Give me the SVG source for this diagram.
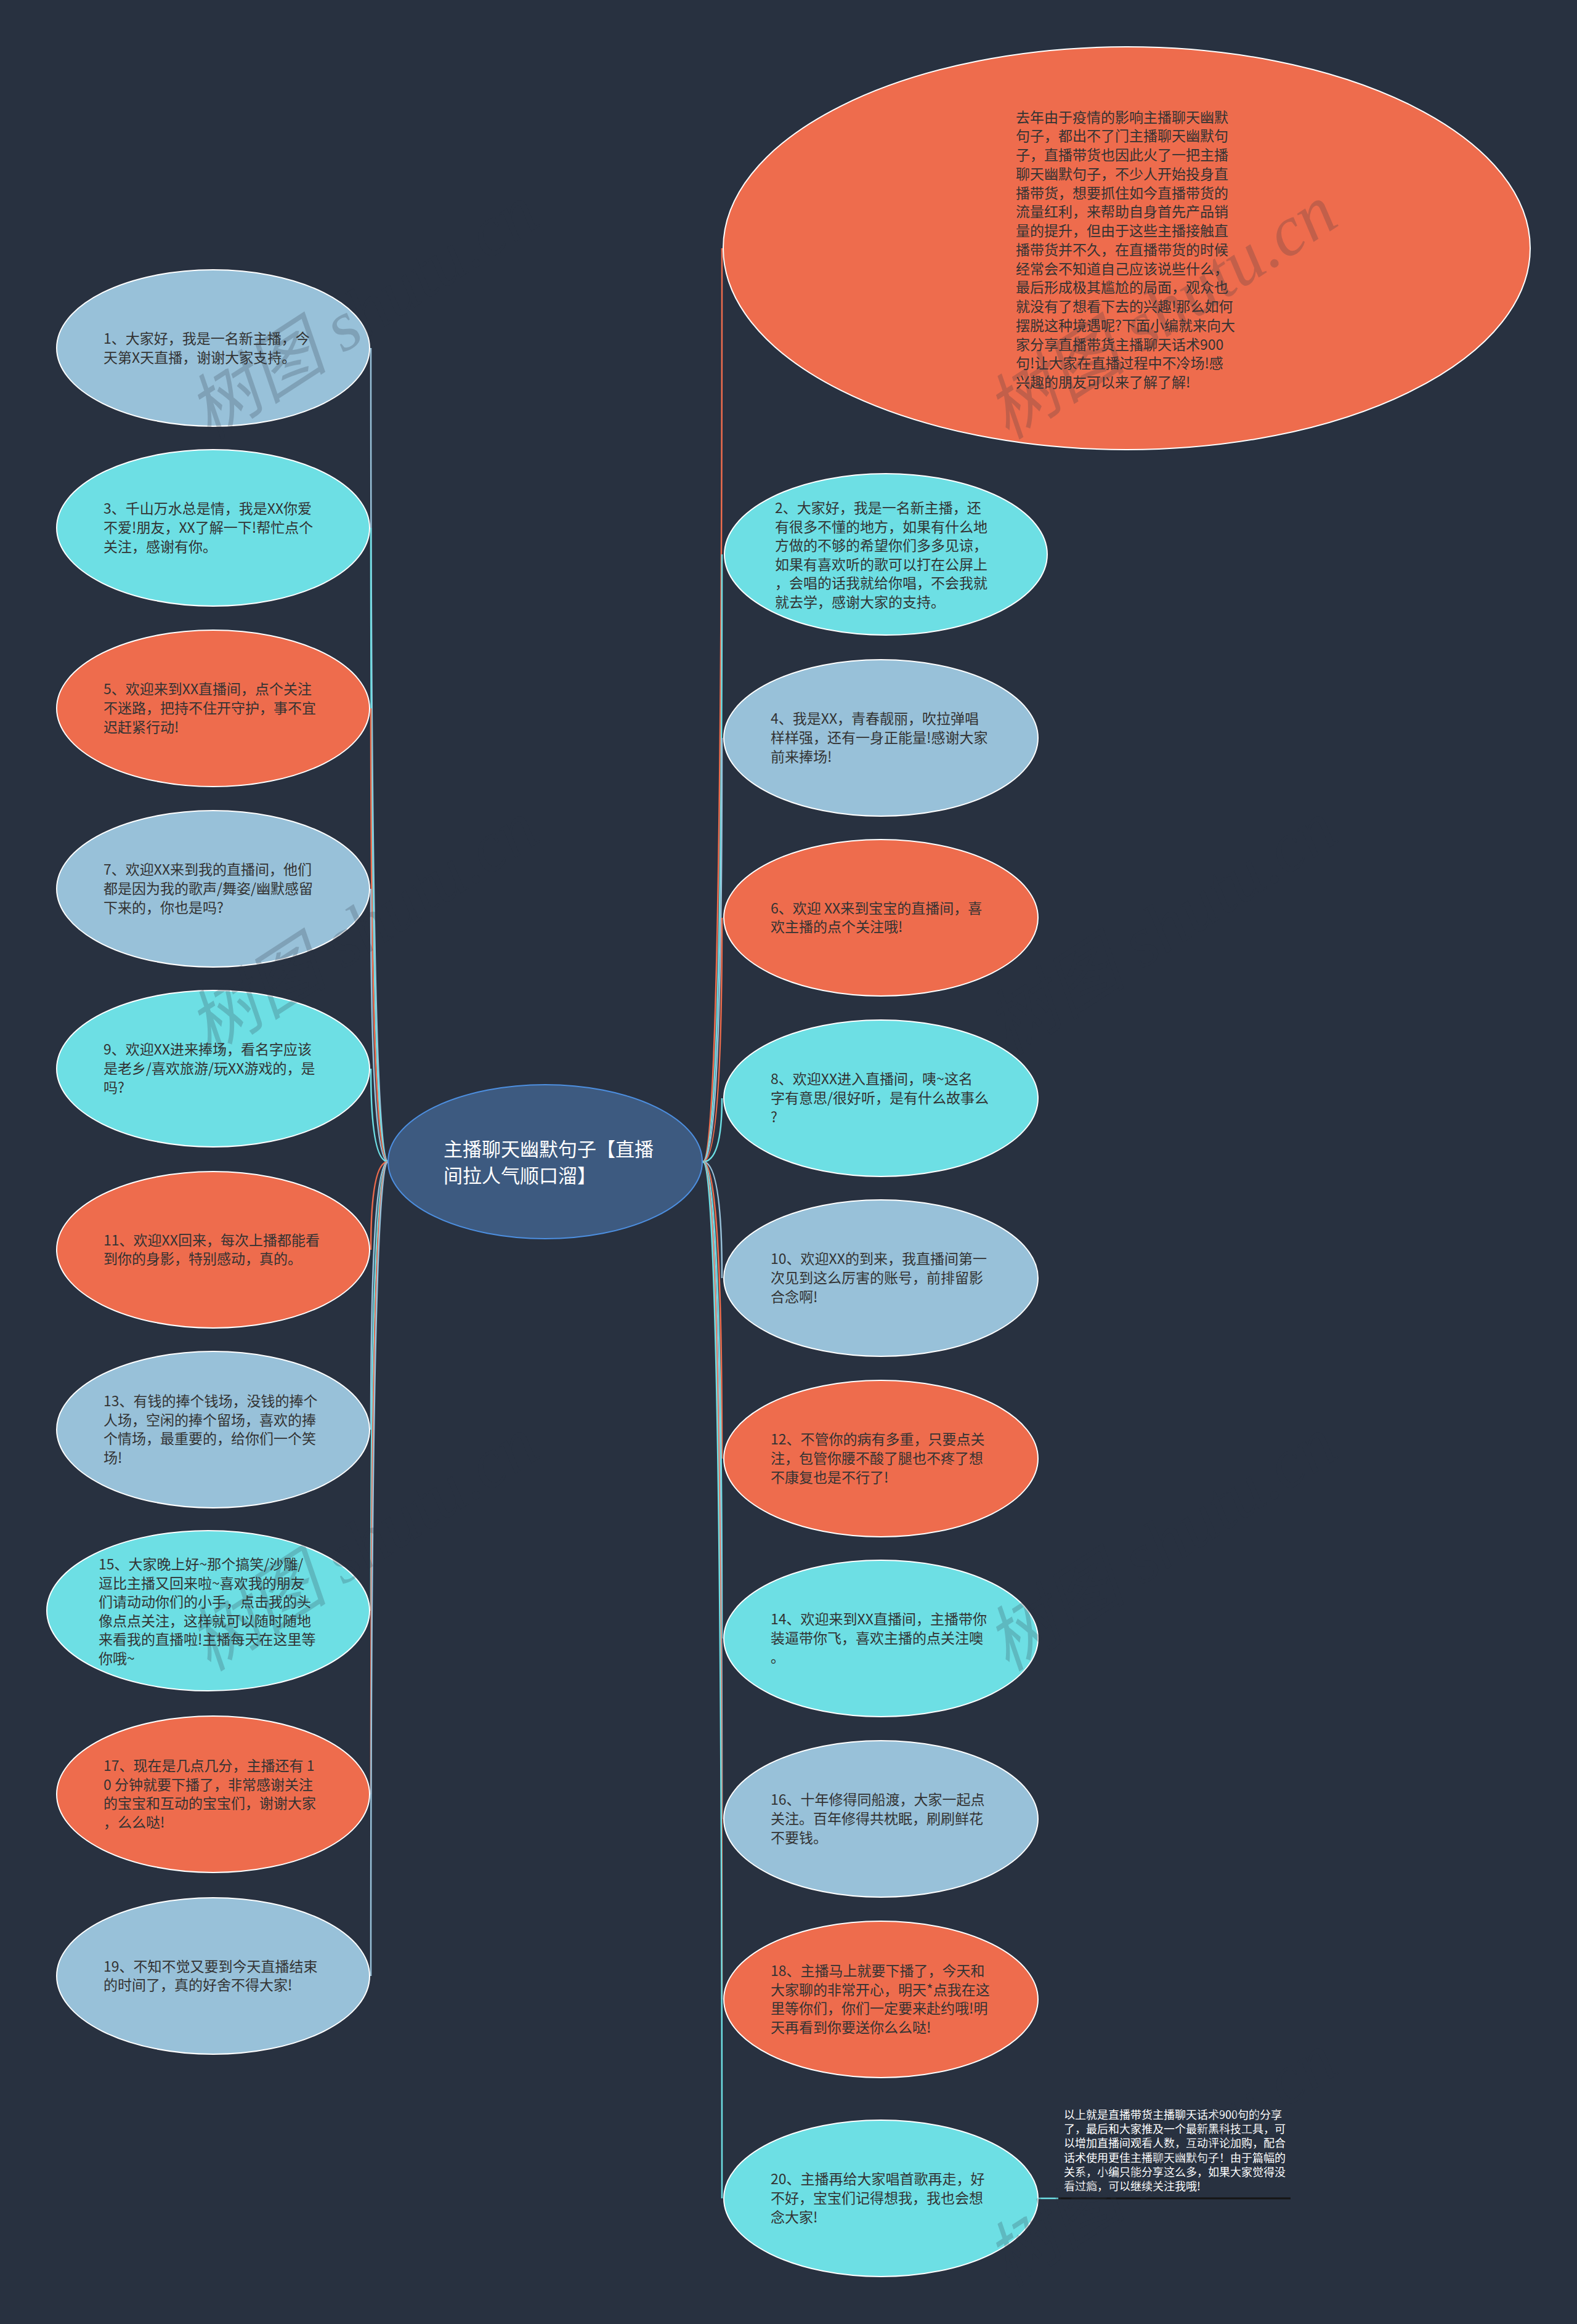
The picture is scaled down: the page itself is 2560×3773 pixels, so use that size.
<svg xmlns="http://www.w3.org/2000/svg" width="2560" height="3773" viewBox="0 0 2560 3773">
<style>
.bg{fill:#283140}
.n{stroke:#ffffff;stroke-width:2}
.o{fill:#ee6c4d}
.b{fill:#98c1d9}
.c{fill:#6ddfe4}
.t{font-family:"Noto Sans CJK SC","Noto Sans",sans-serif;font-size:23px;fill:#333333}
.ct{font-family:"Noto Sans CJK SC","Noto Sans",sans-serif;font-size:31px;fill:#ffffff}
.ft{font-family:"Noto Sans CJK SC","Noto Sans",sans-serif;font-size:18px;fill:#ffffff}
.e{fill:none;stroke-width:2.5}
.eo{stroke:#ee6c4d}
.eb{stroke:#98c1d9}
.ec{stroke:#6ddfe4}
.wm{font-family:"Liberation Serif","Noto Sans CJK SC",serif;font-style:italic;font-size:115px;fill:#283140;fill-opacity:0.22}
</style>
<rect class="bg" x="0" y="0" width="2560" height="3773"/>
<g id="connectors">
<path class="e eb" d="M630 1886 Q602 1886 602 565"/>
<path class="e ec" d="M630 1886 Q602 1886 602 857"/>
<path class="e eo" d="M630 1886 Q602 1886 602 1150"/>
<path class="e eb" d="M630 1886 Q602 1886 602 1443"/>
<path class="e ec" d="M630 1886 Q602 1886 602 1735"/>
<path class="e eo" d="M630 1886 Q602 1886 602 2029"/>
<path class="e eb" d="M630 1886 Q602 1886 602 2321"/>
<path class="e ec" d="M630 1886 Q602 1886 602 2615"/>
<path class="e eo" d="M630 1886 Q602 1886 602 2913"/>
<path class="e eb" d="M630 1886 Q602 1886 602 3208"/>
<path class="e eo" d="M1141 1886 Q1172 1886 1172 403"/>
<path class="e ec" d="M1141 1886 Q1172 1886 1172 900"/>
<path class="e eb" d="M1141 1886 Q1172 1886 1172 1198"/>
<path class="e eo" d="M1141 1886 Q1172 1886 1172 1490"/>
<path class="e ec" d="M1141 1886 Q1172 1886 1172 1783"/>
<path class="e eb" d="M1141 1886 Q1172 1886 1172 2075"/>
<path class="e eo" d="M1141 1886 Q1172 1886 1172 2368"/>
<path class="e ec" d="M1141 1886 Q1172 1886 1172 2660"/>
<path class="e eb" d="M1141 1886 Q1172 1886 1172 2953"/>
<path class="e eo" d="M1141 1886 Q1172 1886 1172 3246"/>
<path class="e ec" d="M1141 1886 Q1172 1886 1172 3569"/>
<path class="e ec" d="M1685 3569 L1718 3569"/>
</g>
<g id="root">
<ellipse cx="885" cy="1886" rx="255" ry="125" fill="#3d5a80" stroke="#4d8fe0" stroke-width="2"/>
<text class="ct" x="720" y="1877">主播聊天幽默句子【直播<tspan x="720" dy="43">间拉人气顺口溜】</tspan></text>
</g>
<g id="intro">
<ellipse class="n o" cx="1829" cy="403" rx="655" ry="327"/>
<text class="t" x="1649" y="198.5">去年由于疫情的影响主播聊天幽默<tspan x="1649" dy="30.75">句子，都出不了门主播聊天幽默句</tspan><tspan x="1649" dy="30.75">子，直播带货也因此火了一把主播</tspan><tspan x="1649" dy="30.75">聊天幽默句子，不少人开始投身直</tspan><tspan x="1649" dy="30.75">播带货，想要抓住如今直播带货的</tspan><tspan x="1649" dy="30.75">流量红利，来帮助自身首先产品销</tspan><tspan x="1649" dy="30.75">量的提升，但由于这些主播接触直</tspan><tspan x="1649" dy="30.75">播带货并不久，在直播带货的时候</tspan><tspan x="1649" dy="30.75">经常会不知道自己应该说些什么，</tspan><tspan x="1649" dy="30.75">最后形成极其尴尬的局面，观众也</tspan><tspan x="1649" dy="30.75">就没有了想看下去的兴趣!那么如何</tspan><tspan x="1649" dy="30.75">摆脱这种境遇呢?下面小编就来向大</tspan><tspan x="1649" dy="30.75">家分享直播带货主播聊天话术900</tspan><tspan x="1649" dy="30.75">句!让大家在直播过程中不冷场!感</tspan><tspan x="1649" dy="30.75">兴趣的朋友可以来了解了解!</tspan></text>
</g>
<g id="n1">
<ellipse class="n b" cx="346" cy="565" rx="254" ry="127"/>
<text class="t" x="168" y="558">1、大家好，我是一名新主播，今<tspan x="168" dy="30.6">天第X天直播，谢谢大家支持。</tspan></text>
</g>
<g id="n3">
<ellipse class="n c" cx="346" cy="857" rx="254" ry="127"/>
<text class="t" x="168" y="834.4">3、千山万水总是情，我是XX你爱<tspan x="168" dy="30.6">不爱!朋友，XX了解一下!帮忙点个</tspan><tspan x="168" dy="30.6">关注，感谢有你。</tspan></text>
</g>
<g id="n5">
<ellipse class="n o" cx="346" cy="1150" rx="254" ry="127"/>
<text class="t" x="168" y="1127.4">5、欢迎来到XX直播间，点个关注<tspan x="168" dy="30.6">不迷路，把持不住开守护，事不宜</tspan><tspan x="168" dy="30.6">迟赶紧行动!</tspan></text>
</g>
<g id="n7">
<ellipse class="n b" cx="346" cy="1443" rx="254" ry="127"/>
<text class="t" x="168" y="1420.4">7、欢迎XX来到我的直播间，他们<tspan x="168" dy="30.6">都是因为我的歌声/舞姿/幽默感留</tspan><tspan x="168" dy="30.6">下来的，你也是吗?</tspan></text>
</g>
<g id="n9">
<ellipse class="n c" cx="346" cy="1735" rx="254" ry="127"/>
<text class="t" x="168" y="1712.4">9、欢迎XX进来捧场，看名字应该<tspan x="168" dy="30.6">是老乡/喜欢旅游/玩XX游戏的，是</tspan><tspan x="168" dy="30.6">吗?</tspan></text>
</g>
<g id="n11">
<ellipse class="n o" cx="346" cy="2029" rx="254" ry="127"/>
<text class="t" x="168" y="2021.7">11、欢迎XX回来，每次上播都能看<tspan x="168" dy="30.6">到你的身影，特别感动，真的。</tspan></text>
</g>
<g id="n13">
<ellipse class="n b" cx="346" cy="2321" rx="254" ry="127"/>
<text class="t" x="168" y="2283.1">13、有钱的捧个钱场，没钱的捧个<tspan x="168" dy="30.6">人场，空闲的捧个留场，喜欢的捧</tspan><tspan x="168" dy="30.6">个情场，最重要的，给你们一个笑</tspan><tspan x="168" dy="30.6">场!</tspan></text>
</g>
<g id="n15">
<ellipse class="n c" cx="338" cy="2615" rx="262" ry="130"/>
<text class="t" x="160" y="2548">15、大家晚上好~那个搞笑/沙雕/<tspan x="160" dy="30.6">逗比主播又回来啦~喜欢我的朋友</tspan><tspan x="160" dy="30.6">们请动动你们的小手，点击我的头</tspan><tspan x="160" dy="30.6">像点点关注，这样就可以随时随地</tspan><tspan x="160" dy="30.6">来看我的直播啦!主播每天在这里等</tspan><tspan x="160" dy="30.6">你哦~</tspan></text>
</g>
<g id="n17">
<ellipse class="n o" cx="346" cy="2913" rx="254" ry="127"/>
<text class="t" x="168" y="2875.1">17、现在是几点几分，主播还有 1<tspan x="168" dy="30.6">0 分钟就要下播了，非常感谢关注</tspan><tspan x="168" dy="30.6">的宝宝和互动的宝宝们，谢谢大家</tspan><tspan x="168" dy="30.6">，么么哒!</tspan></text>
</g>
<g id="n19">
<ellipse class="n b" cx="346" cy="3208" rx="254" ry="127"/>
<text class="t" x="168" y="3200.7">19、不知不觉又要到今天直播结束<tspan x="168" dy="30.6">的时间了，真的好舍不得大家!</tspan></text>
</g>
<g id="n2">
<ellipse class="n c" cx="1438" cy="900" rx="262" ry="131"/>
<text class="t" x="1258" y="833">2、大家好，我是一名新主播，还<tspan x="1258" dy="30.6">有很多不懂的地方，如果有什么地</tspan><tspan x="1258" dy="30.6">方做的不够的希望你们多多见谅，</tspan><tspan x="1258" dy="30.6">如果有喜欢听的歌可以打在公屏上</tspan><tspan x="1258" dy="30.6">，会唱的话我就给你唱，不会我就</tspan><tspan x="1258" dy="30.6">就去学，感谢大家的支持。</tspan></text>
</g>
<g id="n4">
<ellipse class="n b" cx="1430" cy="1198" rx="255" ry="127"/>
<text class="t" x="1251" y="1175.4">4、我是XX，青春靓丽，吹拉弹唱<tspan x="1251" dy="30.6">样样强，还有一身正能量!感谢大家</tspan><tspan x="1251" dy="30.6">前来捧场!</tspan></text>
</g>
<g id="n6">
<ellipse class="n o" cx="1430" cy="1490" rx="255" ry="127"/>
<text class="t" x="1251" y="1482.7">6、欢迎 XX来到宝宝的直播间，喜<tspan x="1251" dy="30.6">欢主播的点个关注哦!</tspan></text>
</g>
<g id="n8">
<ellipse class="n c" cx="1430" cy="1783" rx="255" ry="127"/>
<text class="t" x="1251" y="1760.4">8、欢迎XX进入直播间，咦~这名<tspan x="1251" dy="30.6">字有意思/很好听，是有什么故事么</tspan><tspan x="1251" dy="30.6">?</tspan></text>
</g>
<g id="n10">
<ellipse class="n b" cx="1430" cy="2075" rx="255" ry="127"/>
<text class="t" x="1251" y="2052.4">10、欢迎XX的到来，我直播间第一<tspan x="1251" dy="30.6">次见到这么厉害的账号，前排留影</tspan><tspan x="1251" dy="30.6">合念啊!</tspan></text>
</g>
<g id="n12">
<ellipse class="n o" cx="1430" cy="2368" rx="255" ry="127"/>
<text class="t" x="1251" y="2345.4">12、不管你的病有多重，只要点关<tspan x="1251" dy="30.6">注，包管你腰不酸了腿也不疼了想</tspan><tspan x="1251" dy="30.6">不康复也是不行了!</tspan></text>
</g>
<g id="n14">
<ellipse class="n c" cx="1430" cy="2660" rx="255" ry="127"/>
<text class="t" x="1251" y="2637.4">14、欢迎来到XX直播间，主播带你<tspan x="1251" dy="30.6">装逼带你飞，喜欢主播的点关注噢</tspan><tspan x="1251" dy="30.6">。</tspan></text>
</g>
<g id="n16">
<ellipse class="n b" cx="1430" cy="2953" rx="255" ry="127"/>
<text class="t" x="1251" y="2930.4">16、十年修得同船渡，大家一起点<tspan x="1251" dy="30.6">关注。百年修得共枕眠，刷刷鲜花</tspan><tspan x="1251" dy="30.6">不要钱。</tspan></text>
</g>
<g id="n18">
<ellipse class="n o" cx="1430" cy="3246" rx="255" ry="127"/>
<text class="t" x="1251" y="3208.1">18、主播马上就要下播了，今天和<tspan x="1251" dy="30.6">大家聊的非常开心，明天*点我在这</tspan><tspan x="1251" dy="30.6">里等你们，你们一定要来赴约哦!明</tspan><tspan x="1251" dy="30.6">天再看到你要送你么么哒!</tspan></text>
</g>
<g id="n20">
<ellipse class="n c" cx="1430" cy="3569" rx="255" ry="127"/>
<text class="t" x="1251" y="3546.4">20、主播再给大家唱首歌再走，好<tspan x="1251" dy="30.6">不好，宝宝们记得想我，我也会想</tspan><tspan x="1251" dy="30.6">念大家!</tspan></text>
</g>
<g id="note">
<line x1="1718" y1="3569" x2="2095" y2="3569" stroke="#151515" stroke-width="3"/>
<text class="ft" x="1727" y="3440">以上就是直播带货主播聊天话术900句的分享<tspan x="1727" dy="23.2">了，最后和大家推及一个最新黑科技工具，可</tspan><tspan x="1727" dy="23.2">以增加直播间观看人数，互动评论加购，配合</tspan><tspan x="1727" dy="23.2">话术使用更佳主播聊天幽默句子！由于篇幅的</tspan><tspan x="1727" dy="23.2">关系，小编只能分享这么多，如果大家觉得没</tspan><tspan x="1727" dy="23.2">看过瘾，可以继续关注我哦!</tspan></text>
</g>
<g id="watermarks">
<text class="wm" transform="translate(340 715) rotate(-33)">树图 shutu.cn</text>
<text class="wm" transform="translate(340 1715) rotate(-33)">树图 shutu.cn</text>
<text class="wm" transform="translate(340 2715) rotate(-33)">树图 shutu.cn</text>
<text class="wm" transform="translate(1636 715) rotate(-33)">树图 shutu.cn</text>
<text class="wm" transform="translate(1636 1715) rotate(-33)">树图 shutu.cn</text>
<text class="wm" transform="translate(1636 2715) rotate(-33)">树图 shutu.cn</text>
<text class="wm" transform="translate(1636 3715) rotate(-33)">树图 shutu.cn</text>
</g>
</svg>
